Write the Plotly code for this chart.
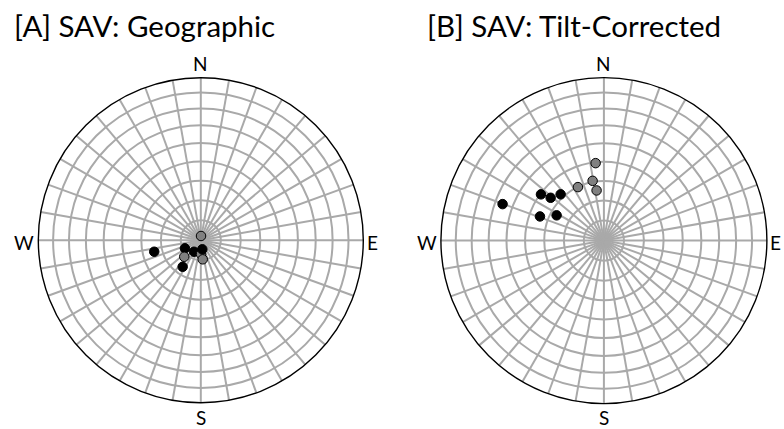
import numpy as np
import plotly.graph_objects as go

# ---- data: declination / inclination (deg); negative inc = upper hemisphere
geo_dec = [256.1, 242.9, 225.0, 210.6, 179.0, 170.6, 214.3, 3.0, 174.3]
geo_inc = [65.9, 81.1, -78.3, 83.3, -83.0, 85.4, 73.9, -87.9, -80.4]

tc_dec = [289.8, 306.3, 308.8, 316.9, 290.7, 298.1, 334.1, 353.9, 349.3, 351.7]
tc_inc = [34.3, 50.4, 55.5, 58.1, 55.5, 63.1, -60.1, -50.5, -59.4, -64.6]

titles = ["[A] SAV: Geographic", "[B] SAV: Tilt-Corrected"]
dir_labels = ["N", "E", "S", "W"]
ring_incs = [80, 70, 60, 50, 40, 30, 20, 10]


def ea(inc):
    inc = np.abs(np.asarray(inc, dtype=float))
    return np.sqrt(2.0) * np.sin(np.radians((90.0 - inc) / 2.0))


FONT = "Lato"
fig = go.Figure()

domains = [
    dict(x=[38.3 / 784, 363.3 / 784], y=[1 - 402.7 / 429, 1 - 77.7 / 429]),
    dict(x=[440.9 / 784, 766.9 / 784], y=[1 - 403.6 / 429, 1 - 77.6 / 429]),
]
centers = [(200.8, 240.2), (603.9, 240.6)]
R = 162.8
GRID = "#a9a9a9"

for k, (dec, inc) in enumerate([(geo_dec, geo_inc), (tc_dec, tc_inc)]):
    pname = "polar" if k == 0 else "polar2"
    colors = ["black" if i >= 0 else "#808080" for i in inc]
    fig.add_trace(go.Scatterpolar(
        r=ea(inc), theta=dec, mode="markers",
        marker=dict(size=9.5, color=colors, line=dict(color="black", width=1)),
        subplot=pname, showlegend=False, hoverinfo="skip"))
    fig.update_layout(**{pname: dict(
        domain=domains[k],
        bgcolor="white",
        angularaxis=dict(
            rotation=90, direction="clockwise",
            tickmode="array", tickvals=list(range(0, 360, 10)),
            showticklabels=False, ticks="",
            showgrid=True, gridcolor=GRID, gridwidth=1.7,
            showline=True, linecolor="black", linewidth=1.4,
        ),
        radialaxis=dict(
            range=[0, 1], tickmode="array",
            tickvals=list(ea(ring_incs)),
            showticklabels=False, ticks="",
            showgrid=True, gridcolor=GRID, gridwidth=1.7,
            showline=False,
        ),
    )})

annotations = []
title_x = [12, 425]
for k in range(2):
    annotations.append(dict(
        text=titles[k], x=title_x[k] / 784, y=1 - 25 / 429,
        xref="paper", yref="paper", xanchor="left", yanchor="middle",
        showarrow=False, font=dict(family=FONT, size=29.5, color="black")))
    cx, cy = centers[k]
    pos = [(cx, cy - R - 14), (cx + R + 2, cy + 2), (cx, cy + R + 14), (cx - R - 3, cy + 2)]
    anchors = ["center", "left", "center", "right"]
    for lab, (px, py), xa in zip(dir_labels, pos, anchors):
        annotations.append(dict(
            text=lab, x=px / 784, y=1 - py / 429, xref="paper", yref="paper",
            xanchor=xa, yanchor="middle", showarrow=False, borderpad=0,
            font=dict(family=FONT, size=19, color="black")))

fig.update_layout(
    width=784, height=429, margin=dict(l=0, r=0, t=0, b=0),
    paper_bgcolor="white", plot_bgcolor="white",
    annotations=annotations,
)

fig.write_html("out.html")
